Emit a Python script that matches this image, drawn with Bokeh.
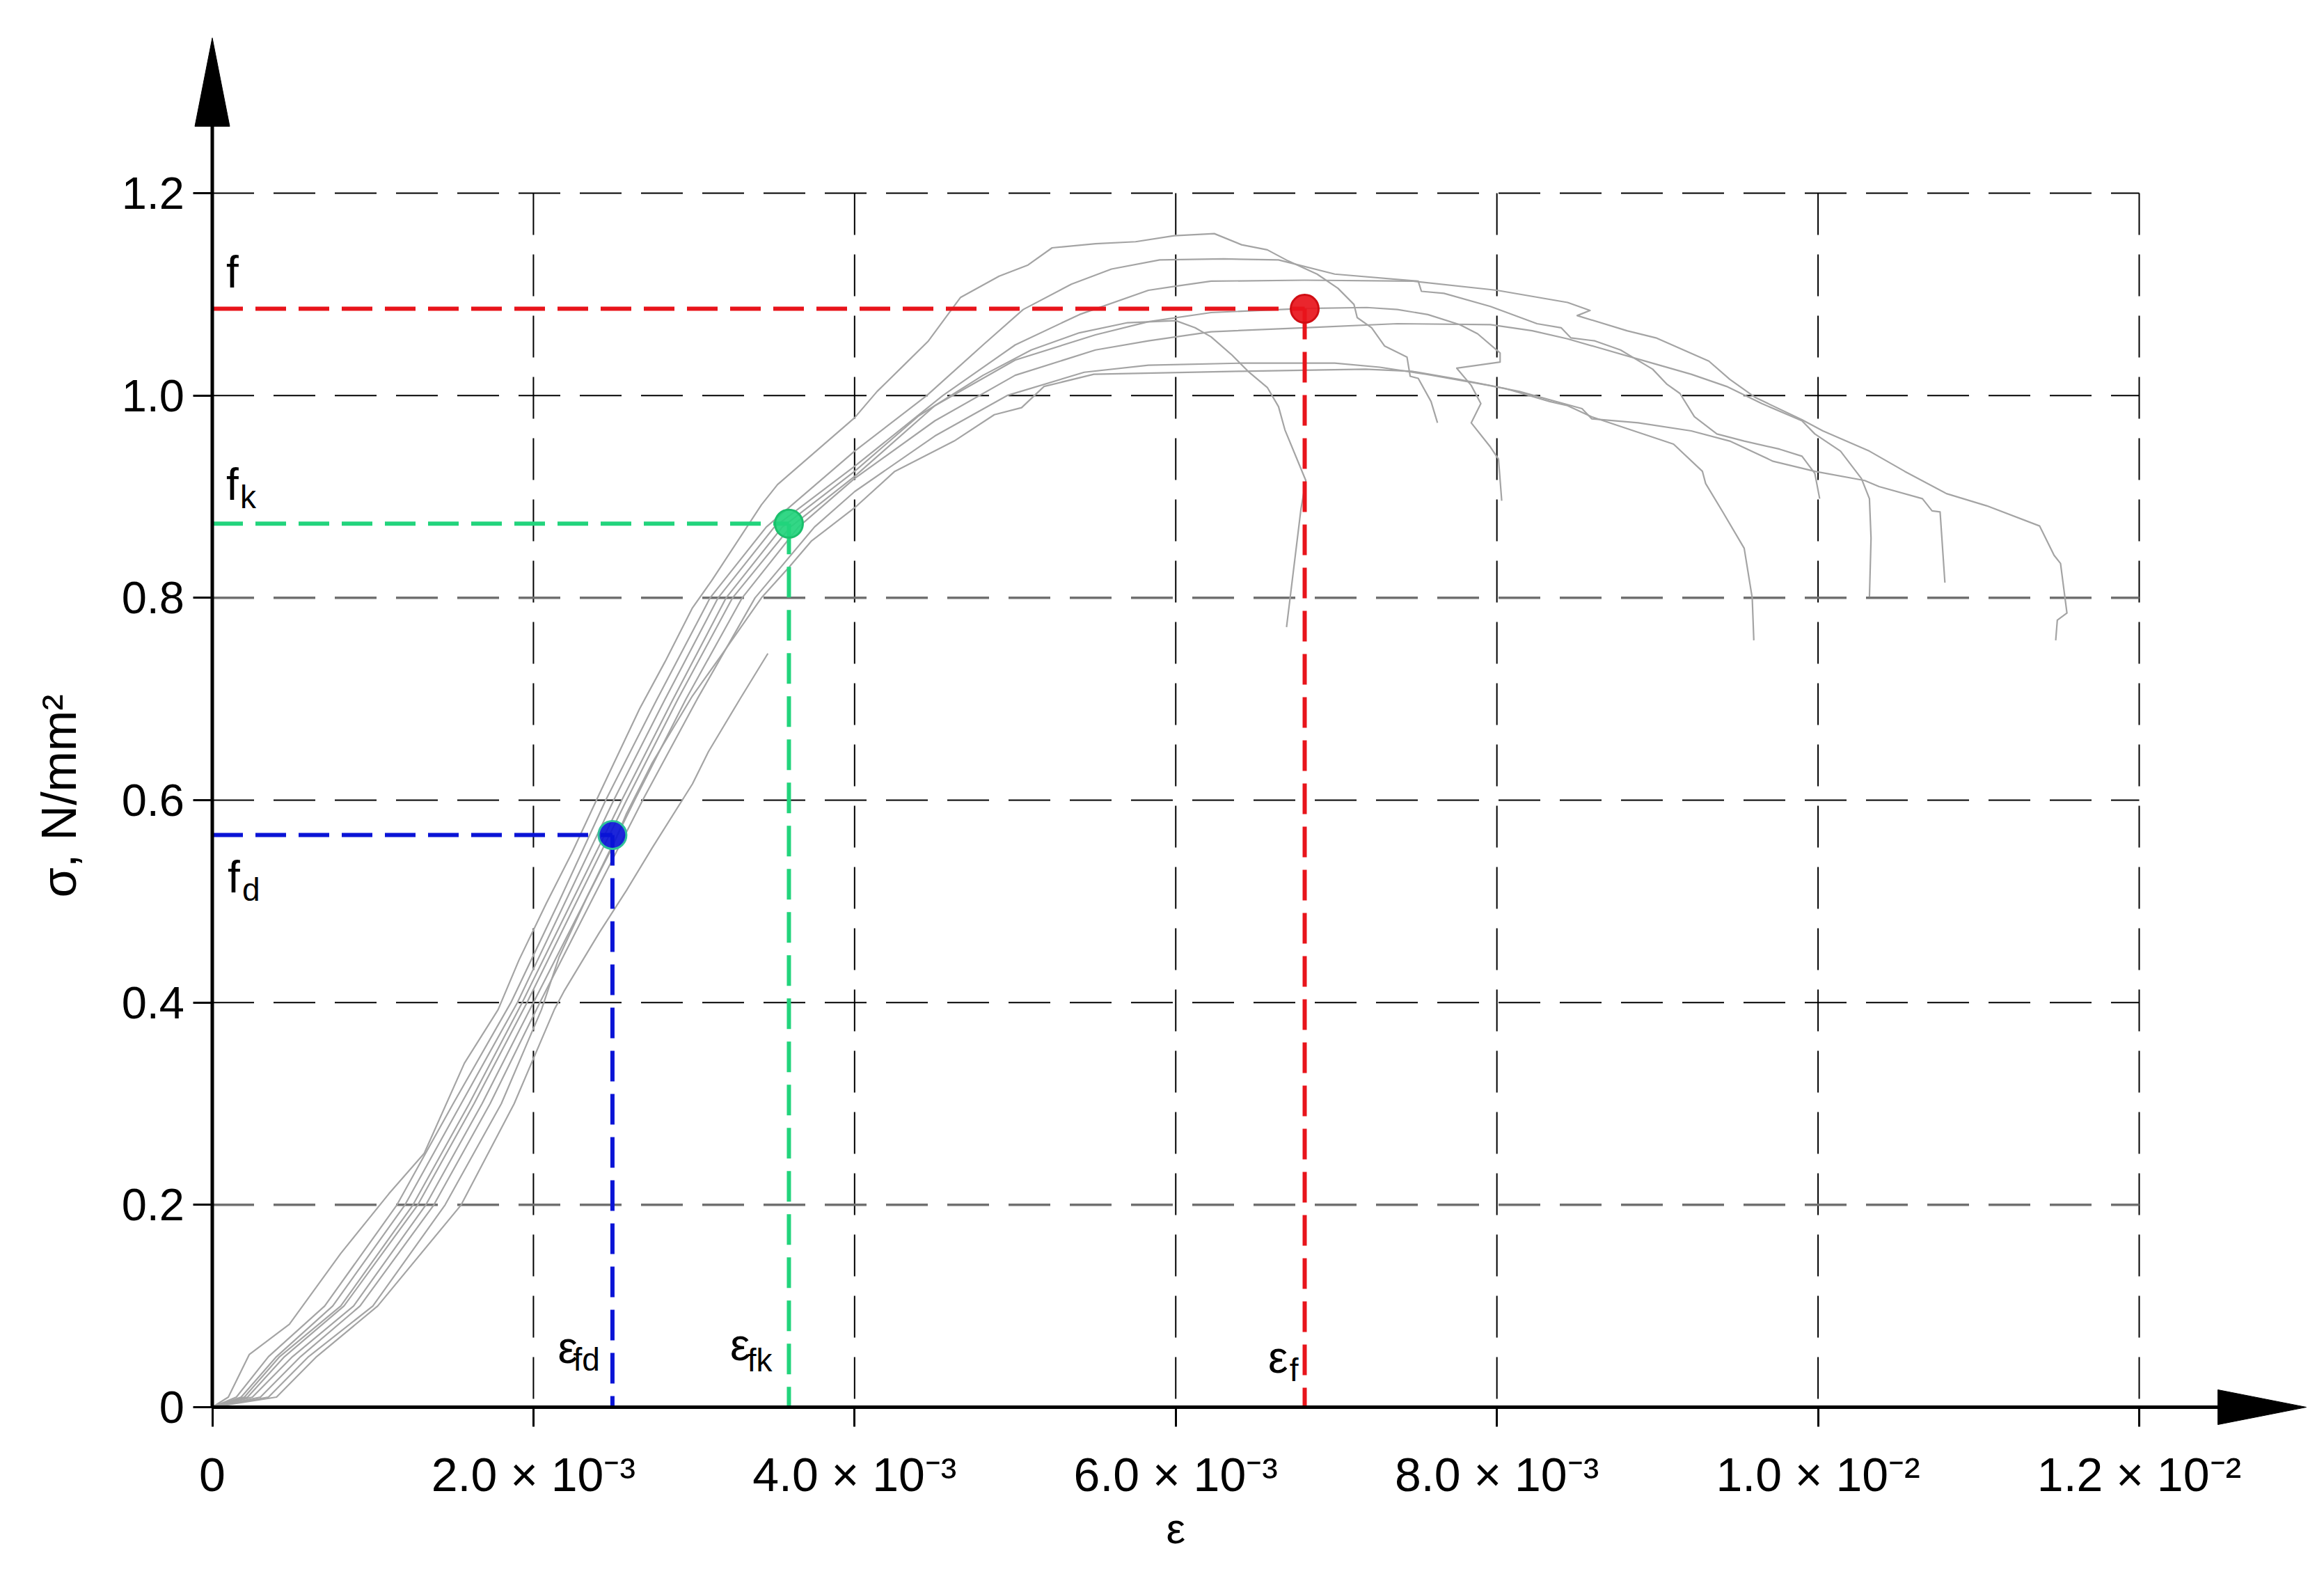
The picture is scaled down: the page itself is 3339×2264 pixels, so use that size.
import numpy as np
from bokeh.plotting import figure
from bokeh.models import Range1d, LinearAxis, FixedTicker, Label
from bokeh.embed import file_html
from bokeh.resources import INLINE

# ---------------- data (strain in units of 1e-3, stress in N/mm^2) ----------------
x_ticks = [0.0, 0.002, 0.004, 0.006, 0.008, 0.010, 0.012]
x_tick_labels = ["0", "2.0 × 10⁻³", "4.0 × 10⁻³", "6.0 × 10⁻³", "8.0 × 10⁻³", "1.0 × 10⁻²", "1.2 × 10⁻²"]
y_ticks = [0.0, 0.2, 0.4, 0.6, 0.8, 1.0, 1.2]
y_tick_labels = ["0", "0.2", "0.4", "0.6", "0.8", "1.0", "1.2"]

curve_a_x = [0, 0.10, 0.23, 0.48, 0.80, 1.10, 1.32, 1.57, 1.78, 1.91, 2.08, 2.24, 2.41, 2.66, 2.82, 2.99, 3.11, 3.42, 3.52, 4.00, 4.14, 4.32, 4.46, 4.66, 4.90, 5.08, 5.23, 5.50, 5.75, 5.99, 6.24, 6.41, 6.57, 6.70, 6.88, 7.01, 7.11, 7.13, 7.22, 7.30, 7.44, 7.46, 7.51, 7.59, 7.63]
curve_a_y = [0, 0.010, 0.052, 0.082, 0.152, 0.211, 0.251, 0.340, 0.393, 0.442, 0.498, 0.548, 0.606, 0.690, 0.737, 0.790, 0.817, 0.892, 0.912, 0.978, 1.004, 1.032, 1.054, 1.097, 1.118, 1.129, 1.146, 1.150, 1.152, 1.158, 1.160, 1.149, 1.144, 1.133, 1.120, 1.106, 1.090, 1.077, 1.067, 1.049, 1.038, 1.019, 1.017, 0.994, 0.973]

curve_b_x = [0, 0.15, 0.35, 0.70, 1.15, 1.50, 1.86, 2.16, 2.45, 2.77, 3.10, 3.45, 4.00, 4.45, 4.80, 5.05, 5.35, 5.60, 5.90, 6.30, 6.64, 6.99, 7.51, 7.53, 7.67, 7.96, 8.25, 8.40, 8.46, 8.61, 8.77, 8.97, 9.06, 9.14, 9.23, 9.37, 9.54, 9.76, 9.90, 9.98, 10.01]
curve_b_y = [0, 0.010, 0.050, 0.100, 0.200, 0.300, 0.400, 0.500, 0.600, 0.700, 0.800, 0.870, 0.945, 1.000, 1.050, 1.085, 1.110, 1.125, 1.134, 1.135, 1.134, 1.120, 1.113, 1.103, 1.101, 1.088, 1.071, 1.067, 1.057, 1.054, 1.045, 1.026, 1.011, 1.002, 0.979, 0.962, 0.955, 0.947, 0.940, 0.923, 0.898]

curve_c_x = [0, 0.18, 0.40, 0.75, 1.20, 1.55, 1.90, 2.20, 2.50, 2.82, 3.15, 3.50, 4.00, 4.55, 5.00, 5.40, 5.83, 6.00, 6.22, 6.80, 7.48, 8.00, 8.44, 8.58, 8.50, 8.81, 8.99, 9.32, 9.45, 9.61, 9.90, 10.03, 10.32, 10.54, 10.80, 11.05, 11.38, 11.47, 11.51, 11.55, 11.49, 11.48]
curve_c_y = [0, 0.010, 0.050, 0.100, 0.200, 0.300, 0.400, 0.500, 0.600, 0.700, 0.800, 0.870, 0.930, 1.000, 1.050, 1.080, 1.104, 1.108, 1.113, 1.114, 1.113, 1.104, 1.092, 1.084, 1.079, 1.064, 1.057, 1.034, 1.016, 0.998, 0.976, 0.965, 0.945, 0.925, 0.903, 0.891, 0.871, 0.842, 0.834, 0.785, 0.778, 0.758]

curve_d_x = [0, 0.20, 0.42, 0.80, 1.25, 1.60, 1.93, 2.24, 2.55, 2.87, 3.20, 3.55, 4.00, 4.40, 4.80, 5.10, 5.40, 5.70, 6.00, 6.12, 6.22, 6.35, 6.45, 6.57, 6.64, 6.68, 6.81, 6.78, 6.69]
curve_d_y = [0, 0.010, 0.050, 0.100, 0.200, 0.300, 0.400, 0.500, 0.600, 0.700, 0.800, 0.870, 0.925, 0.980, 1.020, 1.045, 1.062, 1.072, 1.074, 1.067, 1.058, 1.040, 1.024, 1.008, 0.989, 0.966, 0.916, 0.888, 0.771]

curve_e_x = [0, 0.22, 0.45, 0.82, 1.28, 1.63, 1.96, 2.27, 2.58, 2.90, 3.24, 3.60, 4.00, 4.50, 5.00, 5.50, 5.83, 6.22, 6.80, 7.19, 7.38, 7.57, 7.77, 7.88, 8.02, 8.02, 7.75, 7.84, 7.90, 7.84, 7.96, 8.01, 8.03]
curve_e_y = [0, 0.010, 0.050, 0.100, 0.200, 0.300, 0.400, 0.500, 0.600, 0.700, 0.800, 0.870, 0.920, 0.990, 1.035, 1.060, 1.073, 1.082, 1.086, 1.087, 1.085, 1.080, 1.070, 1.061, 1.042, 1.033, 1.027, 1.010, 0.992, 0.973, 0.949, 0.937, 0.896]

curve_f_x = [0, 0.25, 0.50, 0.88, 1.33, 1.68, 2.00, 2.32, 2.63, 2.95, 3.30, 3.65, 4.00, 4.50, 5.00, 5.50, 5.83, 6.22, 6.80, 7.38, 7.96, 8.22, 8.44, 8.66, 8.99, 9.21, 9.43, 9.65, 9.90, 9.98, 10.14, 10.27, 10.32, 10.33, 10.32]
curve_f_y = [0, 0.010, 0.050, 0.100, 0.200, 0.300, 0.400, 0.500, 0.600, 0.700, 0.800, 0.870, 0.918, 0.975, 1.020, 1.045, 1.054, 1.063, 1.067, 1.071, 1.070, 1.064, 1.056, 1.046, 1.031, 1.021, 1.009, 0.992, 0.975, 0.962, 0.945, 0.918, 0.898, 0.859, 0.801]

curve_g_x = [0, 0.30, 0.55, 0.92, 1.38, 1.73, 2.04, 2.36, 2.68, 3.02, 3.38, 3.75, 4.00, 4.50, 4.95, 5.43, 5.83, 6.41, 6.99, 7.27, 7.56, 7.95, 8.14, 8.53, 8.59, 8.88, 9.21, 9.45, 9.72, 9.98, 10.29, 10.38, 10.65, 10.71, 10.76, 10.79]
curve_g_y = [0, 0.010, 0.050, 0.100, 0.200, 0.300, 0.400, 0.500, 0.600, 0.700, 0.800, 0.870, 0.905, 0.960, 1.000, 1.023, 1.030, 1.032, 1.032, 1.028, 1.021, 1.010, 1.004, 0.987, 0.977, 0.973, 0.965, 0.955, 0.935, 0.925, 0.916, 0.910, 0.898, 0.886, 0.885, 0.815]

curve_h_x = [0, 0.35, 0.60, 1.00, 1.45, 1.80, 2.05, 2.16, 2.33, 2.49, 2.58, 2.74, 2.99, 3.16, 3.42, 3.59, 3.73, 4.00, 4.25, 4.62, 4.87, 5.04, 5.18, 5.49, 6.41, 7.18, 7.47, 7.76, 8.05, 8.33, 8.44, 8.59, 9.10, 9.28, 9.30, 9.41, 9.54, 9.59, 9.60]
curve_h_y = [0, 0.010, 0.050, 0.100, 0.200, 0.300, 0.393, 0.445, 0.503, 0.553, 0.587, 0.637, 0.703, 0.741, 0.800, 0.830, 0.856, 0.889, 0.925, 0.955, 0.981, 0.988, 1.009, 1.021, 1.024, 1.026, 1.024, 1.016, 1.007, 0.994, 0.990, 0.979, 0.952, 0.925, 0.913, 0.884, 0.849, 0.800, 0.758]

curve_i_x = [0, 0.40, 0.65, 1.03, 1.55, 1.88, 2.13, 2.19, 2.41, 2.58, 2.74, 2.99, 3.09, 3.29, 3.46]
curve_i_y = [0, 0.010, 0.050, 0.100, 0.200, 0.300, 0.393, 0.411, 0.469, 0.511, 0.553, 0.616, 0.648, 0.701, 0.745]

# characteristic points: design (d), characteristic (k), mean (f)
point_names = ["d", "k", "f"]
point_eps = [0.002492, 0.003591, 0.006803]
point_sig = [0.5656, 0.8733, 1.0857]

# ---------------- geometry ----------------
W, H = 3330, 2256
X0_PX, X12_PX = 304.5, 3073.0      # canvas px of x=0 and x=0.012
Y0_PX, Y12_PX = 2021.0, 277.0      # canvas px (from top) of y=0 and y=1.2
sx = (x_ticks[-1] - x_ticks[0]) / (X12_PX - X0_PX)
sy = (y_ticks[-1] - y_ticks[0]) / (Y0_PX - Y12_PX)
x_start, x_end = -X0_PX * sx, (W - X0_PX) * sx
y_start, y_end = -(H - Y0_PX) * sy, Y0_PX * sy

FONT = "Liberation Sans"
GRAY = "#a4a4a4"
colors = {"d": "#0a14d6", "k": "#22d47c", "f": "#e8141b"}
edge = {"d": "#2fc09a", "k": "#1bbf6c", "f": "#d00e14"}

p = figure(width=W, height=H, x_range=Range1d(x_start, x_end), y_range=Range1d(y_start, y_end),
           output_backend="svg", toolbar_location=None, x_axis_location=None, y_axis_location=None,
           min_border=0, title=None, tools="")
p.outline_line_color = None
p.background_fill_color = "white"
p.border_fill_color = "white"
p.grid.visible = False

# ---------------- grid ----------------
gx = [t for t in x_ticks if t > 0]
p.segment(x0=gx, y0=[y_ticks[-1]] * len(gx), x1=gx, y1=[y_ticks[0]] * len(gx),
          line_color="black", line_width=2, line_dash="60 28")
for t in y_ticks[1:]:
    heavy = t in (0.2, 0.8)
    p.segment(x0=[x_ticks[0]], y0=[t], x1=[x_ticks[-1]], y1=[t],
              line_color="#707070" if heavy else "black", line_width=3.5 if heavy else 2,
              line_dash="60 28")

# ---------------- test curves ----------------
curves = [(curve_a_x, curve_a_y), (curve_b_x, curve_b_y), (curve_c_x, curve_c_y),
          (curve_d_x, curve_d_y), (curve_e_x, curve_e_y), (curve_f_x, curve_f_y),
          (curve_g_x, curve_g_y), (curve_h_x, curve_h_y), (curve_i_x, curve_i_y)]
for cx, cy in curves:
    p.line(np.array(cx) * 1e-3, cy, line_color=GRAY, line_width=2.2, line_join="round")

# ---------------- characteristic lines & points ----------------
for n, e, s in zip(point_names, point_eps, point_sig):
    p.segment(x0=[0], y0=[s], x1=[e], y1=[s], line_color=colors[n], line_width=6, line_dash="44 18")
    p.segment(x0=[e], y0=[s], x1=[e], y1=[0], line_color=colors[n], line_width=6, line_dash="44 18")
for n, e, s in zip(point_names, point_eps, point_sig):
    p.scatter([e], [s], size=40, fill_color=colors[n], fill_alpha=0.92,
              line_color=edge[n], line_width=3)

# ---------------- axes with arrows ----------------
x_arrow_base = (3186 - X0_PX) * sx
x_arrow_tip = (3313 - X0_PX) * sx
y_arrow_base = (Y0_PX - 181) * sy
y_arrow_tip = (Y0_PX - 54) * sy
half_w_x = 25 * sx
half_h_y = 25 * sy
p.segment(x0=[0, 0], y0=[0, 0], x1=[x_arrow_base, 0], y1=[0, y_arrow_base],
          line_color="black", line_width=5)
p.patch([x_arrow_base, x_arrow_tip, x_arrow_base], [-half_h_y, 0, half_h_y], color="black")
p.patch([-half_w_x, 0, half_w_x], [y_arrow_base, y_arrow_tip, y_arrow_base], color="black")

xaxis = LinearAxis(fixed_location=0, ticker=FixedTicker(ticks=x_ticks),
                   major_label_overrides=dict(zip(x_ticks, x_tick_labels)),
                   axis_line_color=None, major_tick_out=28, major_tick_in=0,
                   major_tick_line_width=3, minor_tick_out=0, minor_tick_in=0,
                   major_label_standoff=30, major_label_text_font=FONT,
                   major_label_text_font_size="68px", major_label_text_color="black")
p.add_layout(xaxis, "below")
yaxis = LinearAxis(fixed_location=0, ticker=FixedTicker(ticks=y_ticks),
                   major_label_overrides=dict(zip(y_ticks, y_tick_labels)),
                   axis_line_color=None, major_tick_out=28, major_tick_in=0,
                   major_tick_line_width=3, minor_tick_out=0, minor_tick_in=0,
                   major_label_standoff=12, major_label_text_font=FONT,
                   major_label_text_font_size="65px", major_label_text_color="black")
p.add_layout(yaxis, "left")

# ---------------- titles ----------------
p.add_layout(Label(x=(x_ticks[0] + x_ticks[-1]) / 2, y=(Y0_PX - 2195) * sy, text="ε",
                   text_font=FONT, text_font_size="62px", text_align="center",
                   text_baseline="alphabetic", text_color="black"))
p.add_layout(Label(x=(84 - X0_PX) * sx, y=(Y0_PX - 1143) * sy, text="σ, N/mm²", angle=np.pi / 2,
                   text_font=FONT, text_font_size="70px", text_align="center",
                   text_baseline="middle", text_color="black"))

# ---------------- point annotations ----------------
MAIN, SUB = "64px", "46px"
LIFT = 21
def lab(x, y, text, size, xo, yo, align="left"):
    p.add_layout(Label(x=x, y=y, text=text, x_offset=xo, y_offset=yo + LIFT, text_font=FONT,
                       text_font_size=size, text_align=align, text_baseline="alphabetic",
                       text_color="black"))

e_d, e_k, e_f = point_eps
s_d, s_k, s_f = point_sig
lab(0, s_f, "f", MAIN, 20, 32)
lab(0, s_k, "f", MAIN, 20, 35)
lab(0, s_k, "k", SUB, 40, 17)
lab(0, s_d, "f", MAIN, 22, -82)
lab(0, s_d, "d", SUB, 43, -100)
lab(e_d, 0, "ε", MAIN, -50, 65, "right")
lab(e_d, 0, "fd", SUB, -18, 48, "right")
lab(e_k, 0, "ε", MAIN, -56, 69, "right")
lab(e_k, 0, "fk", SUB, -24, 47, "right")
lab(e_f, 0, "ε", MAIN, -24, 51, "right")
lab(e_f, 0, "f", SUB, -9, 33, "right")

open("out.html", "w").write(file_html(p, INLINE))
